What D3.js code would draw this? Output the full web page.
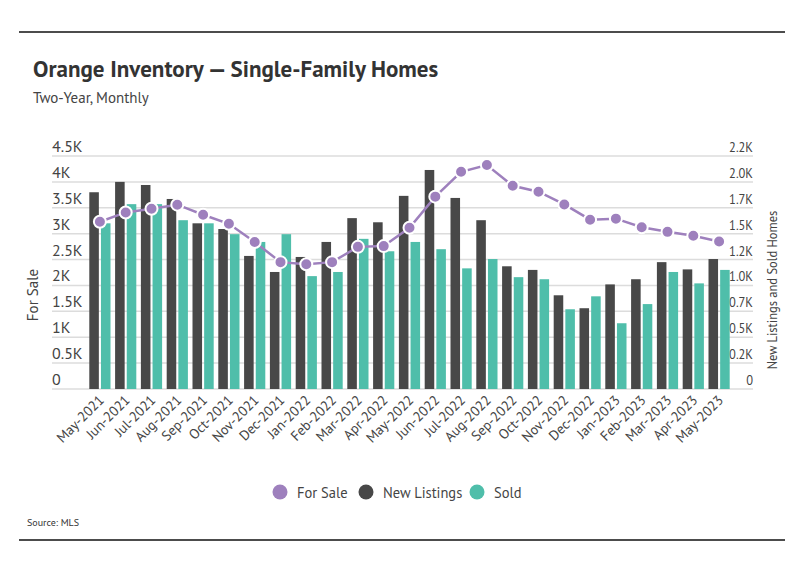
<!DOCTYPE html>
<html>
<head>
<meta charset="utf-8">
<script src="https://cdn.jsdelivr.net/npm/d3@7"></script>
<style>
  body { margin: 0; background: #fff; }
  svg { display: block; font-family: "PT Sans", "Liberation Sans Narrow", "DejaVu Sans Condensed", "Roboto", sans-serif; }
</style>
</head>
<body>
<div id="chart"></div>
<script>
// data
var months = ["May-2021", "Jun-2021", "Jul-2021", "Aug-2021", "Sep-2021", "Oct-2021", "Nov-2021", "Dec-2021",
  "Jan-2022", "Feb-2022", "Mar-2022", "Apr-2022", "May-2022", "Jun-2022", "Jul-2022", "Aug-2022",
  "Sep-2022", "Oct-2022", "Nov-2022", "Dec-2022", "Jan-2023", "Feb-2023", "Mar-2023", "Apr-2023", "May-2023"]
var forSale = [3230, 3410, 3480, 3560, 3365, 3190, 2840, 2450, 2410, 2450, 2745, 2760,
  3115, 3715, 4195, 4325, 3925, 3810, 3565, 3270, 3290, 3125, 3035, 2960, 2850]
var newListings = [1900, 2000, 1970, 1835, 1600, 1545, 1285, 1130, 1275, 1420, 1650, 1610,
  1865, 2115, 1845, 1630, 1185, 1150, 905, 780, 1010, 1060, 1225, 1155, 1255]
var sold = [1600, 1785, 1785, 1630, 1600, 1495, 1420, 1495, 1090, 1130, 1450, 1330,
  1420, 1350, 1165, 1255, 1080, 1060, 770, 895, 635, 820, 1130, 1020, 1150]
var leftTicks = [0, 500, 1000, 1500, 2000, 2500, 3000, 3500, 4000, 4500]
var leftTickLabels = ["0", "0.5K", "1K", "1.5K", "2K", "2.5K", "3K", "3.5K", "4K", "4.5K"]
var rightTicks = [0, 250, 500, 750, 1000, 1250, 1500, 1750, 2000, 2250]
var rightTickLabels = ["0", "0.2K", "0.5K", "0.7K", "1.0K", "1.2K", "1.5K", "1.7K", "2.0K", "2.2K"]
var seriesNames = ["For Sale", "New Listings", "Sold"]
var colors = { "For Sale": "#9e80bd", "New Listings": "#484848", "Sold": "#4fbeaa" }

var W = 798, H = 575
var plot = { left: 52, right: 753, top: 156, bottom: 389 }

var svg = d3.select("#chart").append("svg")
  .attr("width", W)
  .attr("height", H)

// frame lines
svg.append("line").attr("x1", 19).attr("x2", 785).attr("y1", 32).attr("y2", 32)
  .attr("stroke", "#111").attr("stroke-width", 1.5)
svg.append("line").attr("x1", 19).attr("x2", 785).attr("y1", 540).attr("y2", 540)
  .attr("stroke", "#111").attr("stroke-width", 1.5)

// titles
svg.append("text").attr("x", 33).attr("y", 77)
  .style("font-size", "23px").style("font-weight", "bold").attr("fill", "#333")
  .text("Orange Inventory — Single-Family Homes")
svg.append("text").attr("x", 33).attr("y", 103)
  .style("font-size", "15px").attr("fill", "#444")
  .text("Two-Year, Monthly")

// scales
var x = d3.scaleBand().domain(months).range([87, 732])
var x1 = d3.scaleBand().domain(["New Listings", "Sold"]).range([2.3, 23.5]).paddingInner(0.18)
var yL = d3.scaleLinear().domain([0, 4500]).range([plot.bottom, plot.top])
var yR = d3.scaleLinear().domain([0, 2250]).range([plot.bottom, plot.top])

// grid lines
svg.append("g").selectAll("line")
  .data(leftTicks)
  .enter().append("line")
    .attr("x1", plot.left).attr("x2", plot.right)
    .attr("y1", d => yL(d)).attr("y2", d => yL(d))
    .attr("stroke", "#dcdcdc").attr("stroke-width", 1.5)

// left tick labels
svg.append("g").selectAll("text")
  .data(leftTicks)
  .enter().append("text")
    .attr("x", plot.left)
    .attr("y", d => yL(d) - 4)
    .style("font-size", "16px").attr("fill", "#444")
    .text((d, i) => leftTickLabels[i])

// right tick labels
svg.append("g").selectAll("text")
  .data(rightTicks)
  .enter().append("text")
    .attr("x", plot.right)
    .attr("y", d => yR(d) - 4)
    .attr("text-anchor", "end")
    .style("font-size", "12.5px").attr("fill", "#444")
    .text((d, i) => rightTickLabels[i])

// axis titles
svg.append("text")
  .attr("transform", "translate(38,295) rotate(-90)")
  .attr("text-anchor", "middle")
  .style("font-size", "15px").attr("fill", "#444")
  .text("For Sale")
svg.append("text")
  .attr("transform", "translate(777,290) rotate(-90)")
  .attr("text-anchor", "middle")
  .style("font-size", "12.5px").attr("fill", "#444")
  .text("New Listings and Sold Homes")

// bars
var barData = months.map((m, i) => ({ month: m, values: [
  { key: "New Listings", value: newListings[i] },
  { key: "Sold", value: sold[i] }
] }))
var groups = svg.append("g").selectAll("g")
  .data(barData)
  .enter().append("g")
    .attr("transform", d => "translate(" + x(d.month) + ",0)")
groups.selectAll("rect")
  .data(d => d.values)
  .enter().append("rect")
    .attr("x", d => x1(d.key))
    .attr("width", x1.bandwidth())
    .attr("y", d => yR(d.value))
    .attr("height", d => plot.bottom - yR(d.value))
    .attr("fill", d => colors[d.key])

// for sale line
var line = d3.line()
  .x((d, i) => x(months[i]) + x.bandwidth() / 2)
  .y(d => yL(d))
svg.append("path")
  .datum(forSale)
  .attr("d", line)
  .attr("fill", "none")
  .attr("stroke", colors["For Sale"])
  .attr("stroke-width", 2.5)
svg.append("g").selectAll("circle")
  .data(forSale)
  .enter().append("circle")
    .attr("cx", (d, i) => x(months[i]) + x.bandwidth() / 2)
    .attr("cy", d => yL(d))
    .attr("r", 6)
    .attr("fill", colors["For Sale"])
    .attr("stroke", "#fff")
    .attr("stroke-width", 2)

// x labels
svg.append("g").selectAll("text")
  .data(months)
  .enter().append("text")
    .attr("transform", d => "translate(" + (x(d) + x.bandwidth() / 2 + 5) + ",401) rotate(-45)")
    .attr("text-anchor", "end")
    .style("font-size", "14px").attr("fill", "#444")
    .text(d => d)

// legend
var legendX = [280, 366, 477]
var legend = svg.append("g").selectAll("g")
  .data(seriesNames)
  .enter().append("g")
    .attr("transform", (d, i) => "translate(" + legendX[i] + ",492)")
legend.append("circle").attr("r", 7.5).attr("fill", d => colors[d])
legend.append("text").attr("x", 17).attr("y", 5.5)
  .style("font-size", "14.5px").attr("fill", "#444")
  .text(d => d)

// source
svg.append("text").attr("x", 27).attr("y", 526)
  .style("font-size", "10px").attr("fill", "#333")
  .text("Source: MLS")
</script>
</body>
</html>
